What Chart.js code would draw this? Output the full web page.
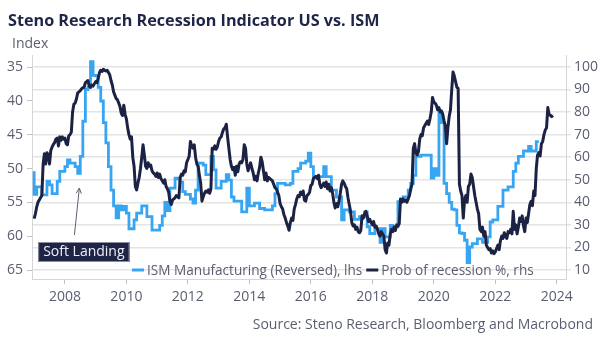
<!DOCTYPE html>
<html lang="en">
<head>
  <meta charset="UTF-8">
  <title>Steno Research Recession Indicator US vs. ISM</title>
  <style>
    body {
      margin: 0;
      background: #fff;
    }
    #wrap {
      width: 602px;
      height: 344px;
    }
  </style>
</head>
<body>
  <div id="wrap"><canvas id="chart" width="602" height="344"></canvas></div>

  <script src="https://cdn.jsdelivr.net/npm/chart.js"></script>
  <script>
    // ISM manufacturing index, monthly from Jan 2007 (shown on a reversed lhs axis)
    const ismStart = 2007;
    const ismValues = [
      50.4, 53.8, 52.7, 52.7, 53.9, 53.9, 51.9, 52.4, 53.7, 53.7, 51.9, 50.4,
      50.4, 49.7, 48.7, 49.2, 49.2, 49.7, 50.7, 48.2, 43.0, 38.3, 38.0, 34.2,
      36.2, 36.3, 38.0, 40.0, 43.2, 46.2, 49.7, 53.2, 55.5, 57.3, 55.5, 56.1,
      55.6, 56.6, 58.9, 58.9, 57.6, 56.6, 56.6, 55.5, 55.5, 57.1, 57.1, 59.1,
      59.1, 59.1, 58.4, 57.0, 55.0, 56.2, 52.9, 52.9, 51.4, 51.5, 52.0, 53.4,
      53.8, 53.8, 54.5, 55.1, 53.2, 49.2, 49.2, 49.5, 50.9, 50.9, 48.2, 50.2,
      52.9, 52.9, 51.9, 51.9, 50.9, 51.7, 54.2, 54.8, 54.8, 54.8, 56.4, 56.4,
      52.9, 55.5, 55.5, 55.1, 55.1, 55.9, 55.9, 56.1, 56.1, 56.1, 55.5, 53.7,
      52.2, 52.2, 52.2, 52.4, 52.4, 52.2, 50.4, 50.4, 50.0, 49.2, 49.2, 48.9,
      47.7, 49.7, 51.2, 51.2, 51.2, 51.2, 49.7, 51.2, 51.2, 53.2, 53.2, 54.2,
      54.2, 57.6, 56.1, 56.1, 56.4, 56.4, 57.5, 57.5, 57.1, 57.1, 56.4, 58.6,
      59.6, 59.6, 58.9, 58.9, 60.9, 58.9, 60.1, 60.1, 58.4, 58.6, 58.6, 54.9,
      54.9, 54.2, 54.2, 53.2, 52.2, 51.0, 48.2, 48.2, 48.0, 48.0, 48.0, 48.0,
      51.4, 50.0, 51.0, 41.7, 43.2, 52.2, 53.7, 55.0, 56.0, 56.1, 58.4, 59.5,
      59.6, 60.6, 63.9, 61.6, 61.1, 61.1, 60.4, 60.4, 60.9, 60.9, 60.1, 57.9,
      57.6, 57.6, 55.6, 55.6, 53.2, 53.2, 52.7, 52.7, 50.4, 49.2, 48.2, 48.2,
      47.4, 47.4, 46.7, 47.4, 47.4, 46.0
    ];

    // Probability of recession in %, twice a month from Jan 2007
    const recStart = 2007;
    const recValues = [
      32.8, 35, 38, 40, 41, 42, 43, 57, 61.5, 57, 62, 61, 57, 63, 64.5, 65.7, 66.5, 68, 68.5, 65, 69, 67.5, 69, 68,
      68.5, 66, 65.5, 69.5, 70, 71, 80, 83.5, 84, 85.8, 88.5, 89, 89.5, 90.3, 90.8, 91, 93, 93.5, 94, 91.5, 91, 92, 91.5, 92.5,
      93.5, 93, 95, 97.5, 98.5, 98, 99, 98.5, 98.2, 98.5, 97.5, 96.5, 94, 92, 89, 87.5, 86, 85.5, 84, 82.5, 79.5, 78.5, 83, 79,
      77, 73, 70, 68, 69, 60, 56, 47, 45.5, 48.5, 51, 55, 60, 65.5, 61, 56, 55, 57.5, 56, 56.5, 54, 53, 52.5, 51.5,
      53, 51, 52.5, 50.5, 49.5, 48.5, 50, 47, 46, 44.5, 40.5, 39, 41, 41.5, 42, 43, 42.5, 42, 51, 52.5, 52, 54, 53.5, 57.5,
      59, 60.4, 67, 65, 64, 65.5, 60, 57, 56, 52, 48.5, 40.5, 42.5, 44, 45, 44.5, 45.5, 44, 46, 64, 63.5, 65, 63.5, 64.5,
      67, 68.5, 69, 71, 72.5, 73, 74.6, 69, 64, 59, 56, 54.5, 55.5, 52, 56, 53.5, 57, 58, 57.5, 59, 65.5, 64, 57, 54,
      56, 57.5, 55, 53, 50, 51.5, 49.5, 53, 55.5, 60, 58, 54, 50, 53, 49.5, 51, 50.5, 50, 49.5, 48, 46.5, 46, 44.5, 43,
      39.5, 38, 37, 34.5, 33, 31, 29.5, 27.6, 31, 33, 32, 37, 39, 41.5, 43, 42.5, 44.5, 43.5, 45, 41, 40.5, 43, 43.5, 44.5,
      47.5, 48, 50.5, 51, 51.5, 50.5, 52, 48, 46.5, 47.5, 48.5, 47, 49, 46, 48, 45, 46.5, 44, 40, 37.5, 39.5, 38, 40.5, 44,
      48, 49.5, 48.5, 47, 46, 42, 39, 36, 31, 29.5, 30, 28, 29, 27, 26.5, 27.5, 34, 33, 35, 36, 34, 31.5, 32.5, 31,
      30, 31.5, 29, 29.5, 28, 26, 25, 27, 26, 25, 19, 17.5, 22, 21, 26, 28, 27, 29, 27.5, 30, 29.5, 30.5, 41.5, 40,
      41.5, 40.5, 41, 40, 41.5, 43, 46, 48, 64, 66, 62, 61, 62.5, 68, 70, 69.5, 73, 74, 75, 76, 74.5, 77, 80, 86.5,
      84.5, 84, 83, 81, 82, 80, 80.5, 79, 76, 74, 66, 73, 78, 81, 90, 97.8, 96, 93.5, 91, 90.5, 48, 45, 43, 33,
      41, 43, 40, 47, 48, 52.5, 51, 47, 43, 40, 37, 35, 28, 27, 29, 25, 27, 21, 20, 19, 19.5, 17.5, 18.5, 17.2,
      18, 19.5, 21, 19, 23, 25, 24, 26.5, 25, 24, 27, 26.5, 28, 26, 36, 28, 30, 26, 29, 33, 31.5, 34, 29.5, 27,
      33, 31, 35, 39, 40.5, 38.5, 45, 43, 55, 61, 62, 60.5, 66, 67, 70, 72, 73, 82, 79, 78.5, 78, 78.5
    ];

    const yearTicks = [2008, 2010, 2012, 2014, 2016, 2018, 2020, 2022, 2024];
    const lhsTicks = [35, 40, 45, 50, 55, 60, 65];
    const rhsTicks = [10, 20, 30, 40, 50, 60, 70, 80, 90, 100];

    const titleText = 'Steno Research Recession Indicator US vs. ISM';
    const unitText = 'Index';
    const sourceText = 'Source: Steno Research, Bloomberg and Macrobond';
    // callout: label box anchored at (year, rhs value), arrow from tail to tip
    const callout = { text: 'Soft Landing', boxAt: [2007.13, 22.4], tail: [2008.31, 25.5], tip: [2008.47, 46.3] };

    const FONT = '"Open Sans", "Noto Sans", sans-serif';
    const NAVY = '#1c2243';
    const BLUE = '#38a5f2';
    const GREY = '#5a5f70';

    const fixedTicks = list => axis => { axis.ticks = list.map(v => ({ value: v })); };

    const extras = {
      id: 'extras',
      afterDatasetsDraw(chart) {
        const { ctx, scales: { x, yR } } = chart;
        ctx.save();

        // arrow to the 2008 dip
        const tx = x.getPixelForValue(callout.tip[0]), ty = yR.getPixelForValue(callout.tip[1]);
        const sx = x.getPixelForValue(callout.tail[0]), sy = yR.getPixelForValue(callout.tail[1]);
        ctx.strokeStyle = '#5c6270';
        ctx.lineWidth = 1;
        ctx.beginPath();
        ctx.moveTo(sx, sy);
        ctx.lineTo(tx, ty);
        const ang = Math.atan2(ty - sy, tx - sx);
        ctx.moveTo(tx - 6 * Math.cos(ang - 0.45), ty - 6 * Math.sin(ang - 0.45));
        ctx.lineTo(tx, ty);
        ctx.lineTo(tx - 6 * Math.cos(ang + 0.45), ty - 6 * Math.sin(ang + 0.45));
        ctx.stroke();

        // label box
        ctx.font = '14px ' + FONT;
        const bx = x.getPixelForValue(callout.boxAt[0]), by = yR.getPixelForValue(callout.boxAt[1]);
        const bw = ctx.measureText(callout.text).width + 10;
        ctx.fillStyle = '#1e2446';
        ctx.fillRect(bx, by, bw, 20);
        ctx.strokeStyle = '#8a8fa0';
        ctx.strokeRect(bx + 0.5, by + 0.5, bw - 1, 19);
        ctx.fillStyle = '#eef0f6';
        ctx.textBaseline = 'middle';
        ctx.fillText(callout.text, bx + 5, by + 10.5);

        // legend inside the plot, bottom centre
        ctx.font = '13.6px ' + FONT;
        const items = chart.data.datasets;
        let lx = 132;
        const ly = 270;
        items.forEach(ds => {
          ctx.strokeStyle = ds.borderColor;
          ctx.lineWidth = 3;
          ctx.beginPath();
          ctx.moveTo(lx, ly);
          ctx.lineTo(lx + 12, ly);
          ctx.stroke();
          ctx.fillStyle = GREY;
          ctx.fillText(ds.label, lx + 15, ly + 1);
          lx += 15 + ctx.measureText(ds.label).width + 4;
        });

        // titles and source
        ctx.textBaseline = 'alphabetic';
        ctx.fillStyle = '#1e2548';
        ctx.font = 'bold 16.2px ' + FONT;
        ctx.fillText(titleText, 8, 26);
        ctx.fillStyle = GREY;
        ctx.font = '14px ' + FONT;
        ctx.fillText(unitText, 12, 48);
        ctx.textAlign = 'right';
        ctx.fillText(sourceText, 593, 329);
        ctx.restore();
      }
    };

    const tickFont = { family: FONT, size: 14 };

    new Chart(document.getElementById('chart'), {
      type: 'line',
      data: {
        datasets: [
          {
            label: 'ISM Manufacturing (Reversed), lhs',
            data: ismValues.map((v, i) => ({ x: ismStart + i / 12, y: v })),
            yAxisID: 'yL',
            borderColor: BLUE,
            borderWidth: 2.8,
            stepped: 'after',
            pointRadius: 0,
            order: 2
          },
          {
            label: 'Prob of recession %, rhs',
            data: recValues.map((v, i) => ({ x: recStart + i / 24, y: v })),
            yAxisID: 'yR',
            borderColor: NAVY,
            borderWidth: 3,
            borderJoinStyle: 'round',
            pointRadius: 0,
            order: 1
          }
        ]
      },
      options: {
        responsive: false,
        devicePixelRatio: 1,
        animation: false,
        layout: { padding: { top: 55, bottom: 35, left: 0, right: 0 } },
        plugins: {
          legend: { display: false },
          tooltip: { enabled: false }
        },
        scales: {
          x: {
            type: 'linear',
            min: 2006.93,
            max: 2024.3,
            afterBuildTicks: fixedTicks(yearTicks),
            afterFit: s => { s.height = 30; },
            ticks: { color: GREY, font: tickFont, padding: 5, maxRotation: 0, autoSkip: false, callback: v => String(v) },
            grid: { drawOnChartArea: false, tickLength: 5, color: '#bfc2c8' },
            border: { color: '#d6d6d6' }
          },
          yL: {
            position: 'left',
            reverse: true,
            min: 33.2,
            max: 66.33,
            afterBuildTicks: fixedTicks(lhsTicks),
            afterFit: s => { s.width = 32; },
            ticks: { color: GREY, font: tickFont, padding: 4 },
            grid: { drawOnChartArea: false, tickLength: 5, color: '#bfc2c8' },
            border: { color: '#d6d6d6' }
          },
          yR: {
            position: 'right',
            min: 6,
            max: 105.3,
            afterBuildTicks: fixedTicks(rhsTicks),
            afterFit: s => { s.width = 36; },
            ticks: { color: GREY, font: tickFont, padding: 3 },
            grid: { color: '#e4e4e4', lineWidth: 1.5, tickLength: 5 },
            border: { color: '#d6d6d6' }
          }
        }
      },
      plugins: [extras]
    });
  </script>
</body>
</html>
